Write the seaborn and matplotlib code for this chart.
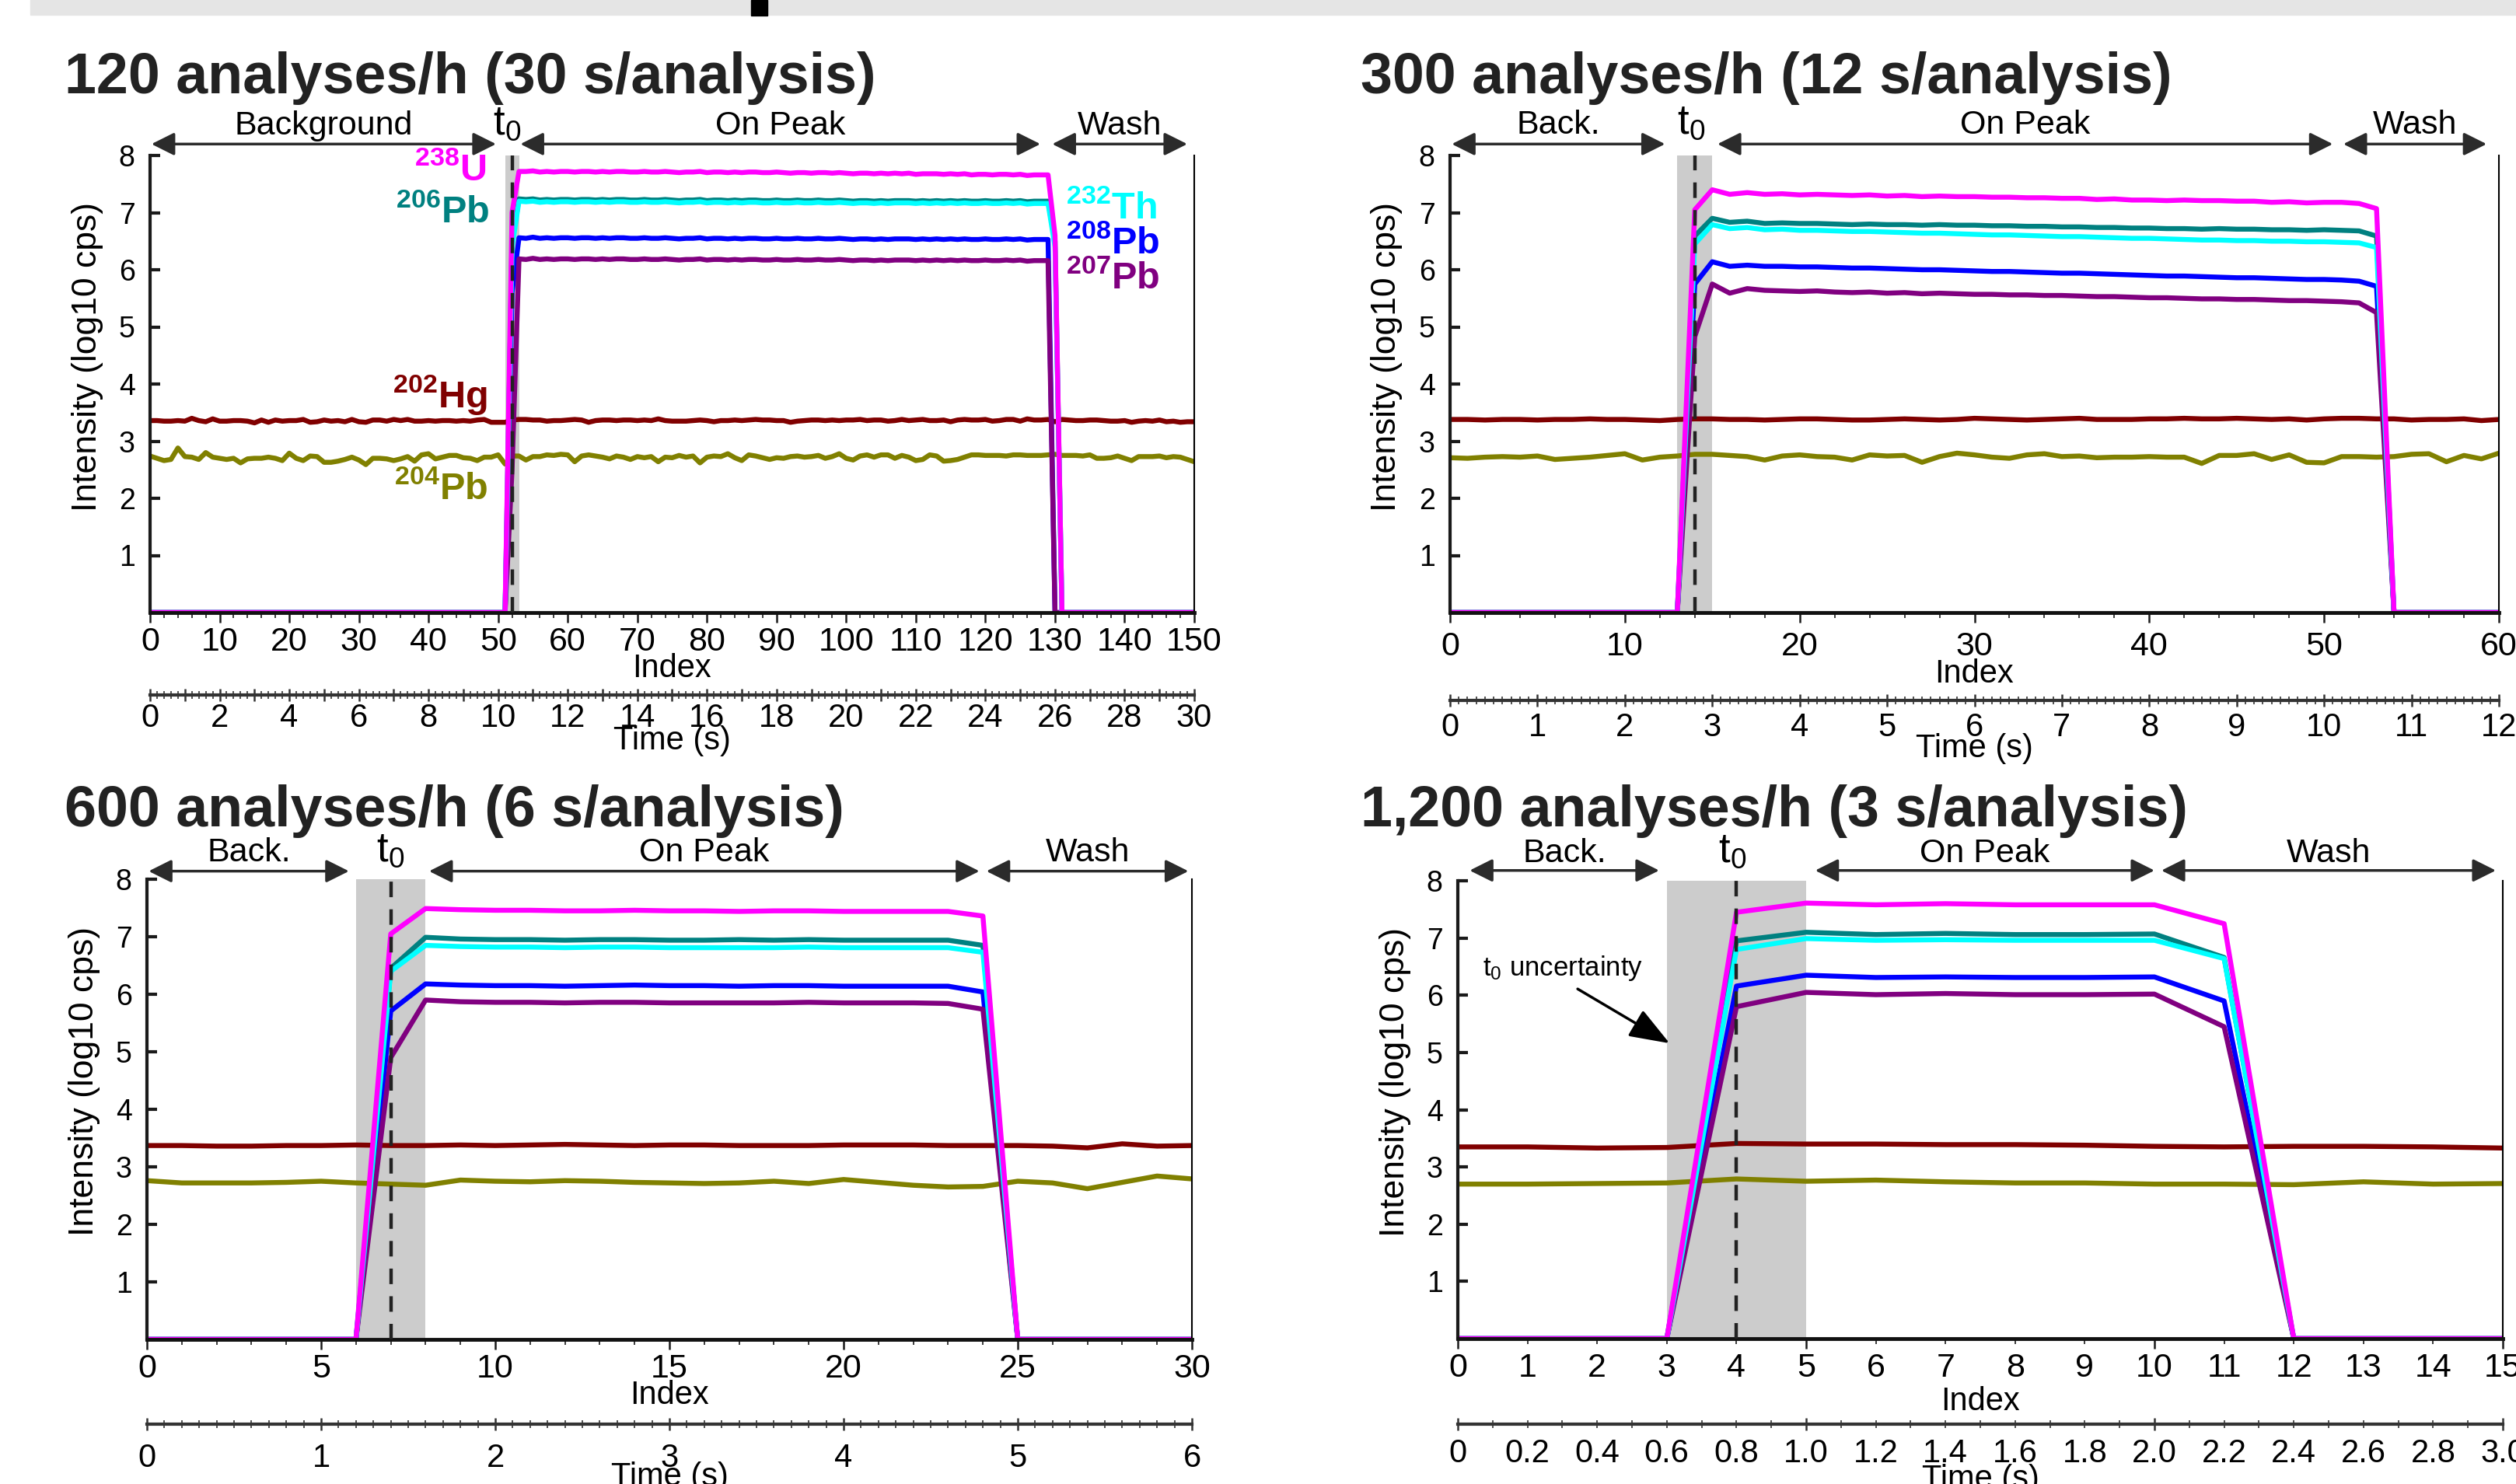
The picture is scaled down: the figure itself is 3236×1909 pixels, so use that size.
import matplotlib
matplotlib.use("Agg")
import matplotlib.pyplot as plt
from matplotlib.patches import Rectangle
from matplotlib.ticker import MultipleLocator, FuncFormatter
import pandas as pd
import seaborn as sns

# ---------------- data ----------------
isotopes = ["204Pb", "202Hg", "208Pb", "207Pb", "206Pb", "232Th", "238U"]
iso_colors = ["#808000", "#800000", "#0000ff", "#800080", "#008080", "#00ffff", "#ff00ff"]
signals = ["238U", "206Pb", "232Th", "208Pb", "207Pb"]

# 120 analyses/h  (index 0-150, 0.2 s per index)
tl_hg = [3.36, 3.36, 3.35, 3.35, 3.36, 3.35, 3.40, 3.36, 3.34, 3.39,
         3.35, 3.35, 3.36, 3.36, 3.35, 3.32, 3.37, 3.33, 3.37, 3.35,
         3.36, 3.36, 3.38, 3.33, 3.34, 3.37, 3.35, 3.36, 3.34, 3.38,
         3.34, 3.33, 3.37, 3.37, 3.35, 3.38, 3.36, 3.38, 3.35, 3.35,
         3.36, 3.35, 3.36, 3.36, 3.35, 3.36, 3.35, 3.37, 3.38, 3.33,
         3.33, 3.33, 3.37, 3.38, 3.38, 3.37, 3.37, 3.35, 3.36, 3.36,
         3.37, 3.38, 3.37, 3.33, 3.36, 3.37, 3.37, 3.36, 3.37, 3.37,
         3.36, 3.37, 3.36, 3.39, 3.36, 3.35, 3.35, 3.35, 3.36, 3.37,
         3.36, 3.34, 3.36, 3.36, 3.37, 3.36, 3.37, 3.38, 3.37, 3.37,
         3.36, 3.36, 3.33, 3.35, 3.36, 3.37, 3.37, 3.36, 3.37, 3.36,
         3.37, 3.37, 3.38, 3.36, 3.37, 3.37, 3.35, 3.36, 3.38, 3.36,
         3.37, 3.38, 3.36, 3.36, 3.37, 3.34, 3.37, 3.38, 3.37, 3.37,
         3.38, 3.35, 3.36, 3.38, 3.38, 3.35, 3.39, 3.37, 3.37, 3.38,
         3.34, 3.38, 3.37, 3.36, 3.36, 3.37, 3.37, 3.36, 3.35, 3.35,
         3.36, 3.33, 3.35, 3.36, 3.35, 3.37, 3.34, 3.35, 3.33, 3.34,
         3.34]
tl_pb204 = [2.74, 2.70, 2.66, 2.68, 2.88, 2.73, 2.72, 2.68, 2.80, 2.72,
            2.70, 2.68, 2.70, 2.62, 2.69, 2.70, 2.70, 2.72, 2.70, 2.66,
            2.79, 2.70, 2.66, 2.74, 2.73, 2.63, 2.63, 2.65, 2.68, 2.72,
            2.67, 2.59, 2.70, 2.70, 2.69, 2.66, 2.69, 2.73, 2.65, 2.76,
            2.78, 2.69, 2.72, 2.75, 2.75, 2.71, 2.70, 2.66, 2.72, 2.72,
            2.76, 2.60, 2.74, 2.74, 2.67, 2.73, 2.73, 2.76, 2.75, 2.77,
            2.76, 2.64, 2.74, 2.76, 2.74, 2.72, 2.69, 2.74, 2.72, 2.68,
            2.73, 2.71, 2.73, 2.64, 2.72, 2.71, 2.75, 2.72, 2.74, 2.62,
            2.72, 2.74, 2.73, 2.78, 2.71, 2.66, 2.76, 2.74, 2.71, 2.68,
            2.71, 2.70, 2.73, 2.74, 2.72, 2.73, 2.75, 2.70, 2.73, 2.78,
            2.70, 2.67, 2.74, 2.76, 2.72, 2.76, 2.76, 2.70, 2.75, 2.72,
            2.66, 2.68, 2.76, 2.74, 2.65, 2.66, 2.68, 2.72, 2.76, 2.76,
            2.75, 2.75, 2.75, 2.74, 2.76, 2.76, 2.75, 2.75, 2.75, 2.76,
            2.77, 2.75, 2.75, 2.75, 2.74, 2.76, 2.70, 2.70, 2.71, 2.74,
            2.70, 2.66, 2.73, 2.73, 2.73, 2.74, 2.71, 2.73, 2.72, 2.68,
            2.64]
tl_u_peak = [7.72, 7.72, 7.73, 7.71, 7.72, 7.71, 7.72, 7.72, 7.71, 7.72,
             7.72, 7.71, 7.72, 7.71, 7.72, 7.72, 7.71, 7.71, 7.72, 7.71,
             7.71, 7.72, 7.71, 7.70, 7.71, 7.71, 7.72, 7.70, 7.71, 7.71,
             7.70, 7.71, 7.70, 7.71, 7.71, 7.70, 7.70, 7.71, 7.70, 7.69,
             7.70, 7.70, 7.69, 7.70, 7.70, 7.69, 7.70, 7.69, 7.68, 7.69,
             7.69, 7.68, 7.69, 7.68, 7.69, 7.68, 7.69, 7.67, 7.68, 7.68,
             7.68, 7.67, 7.68, 7.67, 7.68, 7.66, 7.67, 7.67, 7.66, 7.67,
             7.67, 7.66, 7.67, 7.65, 7.66, 7.66, 7.66]
tl_pb206_peak = [7.24, 7.23, 7.24, 7.22, 7.23, 7.22, 7.23, 7.23, 7.22, 7.23,
                 7.23, 7.22, 7.23, 7.22, 7.23, 7.23, 7.22, 7.22, 7.23, 7.22,
                 7.22, 7.23, 7.22, 7.21, 7.22, 7.22, 7.23, 7.21, 7.22, 7.22,
                 7.21, 7.22, 7.21, 7.22, 7.22, 7.21, 7.21, 7.22, 7.21, 7.21,
                 7.22, 7.21, 7.21, 7.22, 7.21, 7.21, 7.22, 7.21, 7.20, 7.21,
                 7.21, 7.20, 7.21, 7.20, 7.21, 7.21, 7.21, 7.20, 7.21, 7.20,
                 7.21, 7.20, 7.21, 7.20, 7.21, 7.20, 7.20, 7.21, 7.20, 7.20,
                 7.21, 7.20, 7.21, 7.19, 7.20, 7.20, 7.20]
tl_th_peak = [7.20, 7.19, 7.20, 7.18, 7.19, 7.18, 7.19, 7.19, 7.18, 7.19,
              7.19, 7.18, 7.19, 7.18, 7.19, 7.19, 7.18, 7.18, 7.19, 7.18,
              7.18, 7.19, 7.18, 7.17, 7.18, 7.18, 7.19, 7.17, 7.18, 7.18,
              7.17, 7.18, 7.17, 7.18, 7.18, 7.17, 7.17, 7.18, 7.17, 7.17,
              7.18, 7.17, 7.17, 7.18, 7.17, 7.17, 7.18, 7.17, 7.16, 7.17,
              7.17, 7.16, 7.17, 7.16, 7.17, 7.17, 7.17, 7.16, 7.17, 7.16,
              7.17, 7.16, 7.17, 7.16, 7.17, 7.16, 7.16, 7.17, 7.16, 7.16,
              7.17, 7.16, 7.17, 7.15, 7.16, 7.16, 7.16]
tl_pb208_peak = [6.56, 6.55, 6.57, 6.55, 6.56, 6.55, 6.56, 6.56, 6.55, 6.56,
                 6.56, 6.55, 6.56, 6.55, 6.56, 6.56, 6.55, 6.55, 6.56, 6.55,
                 6.55, 6.56, 6.55, 6.54, 6.55, 6.55, 6.56, 6.54, 6.55, 6.55,
                 6.54, 6.55, 6.54, 6.55, 6.55, 6.54, 6.54, 6.55, 6.54, 6.54,
                 6.55, 6.54, 6.54, 6.55, 6.54, 6.54, 6.55, 6.54, 6.53, 6.54,
                 6.54, 6.53, 6.54, 6.53, 6.54, 6.54, 6.54, 6.53, 6.54, 6.53,
                 6.54, 6.53, 6.54, 6.53, 6.54, 6.53, 6.53, 6.54, 6.53, 6.53,
                 6.54, 6.53, 6.54, 6.52, 6.53, 6.53, 6.53]
tl_pb207_peak = [6.19, 6.18, 6.20, 6.18, 6.19, 6.18, 6.19, 6.19, 6.18, 6.19,
                 6.19, 6.18, 6.19, 6.18, 6.19, 6.19, 6.18, 6.18, 6.19, 6.18,
                 6.18, 6.19, 6.18, 6.17, 6.18, 6.18, 6.19, 6.17, 6.18, 6.18,
                 6.17, 6.18, 6.17, 6.18, 6.18, 6.17, 6.17, 6.18, 6.17, 6.17,
                 6.18, 6.17, 6.17, 6.18, 6.17, 6.17, 6.18, 6.17, 6.16, 6.17,
                 6.17, 6.16, 6.17, 6.16, 6.17, 6.17, 6.17, 6.16, 6.17, 6.16,
                 6.17, 6.16, 6.17, 6.16, 6.17, 6.16, 6.16, 6.17, 6.16, 6.16,
                 6.17, 6.16, 6.17, 6.15, 6.16, 6.16, 6.16]
tl_rise = [7.00, 6.50, 6.40, 5.60, 2.50]     # U, 206, 232, 208, 207 at index 52
tl_fall = [6.60, 6.50, 6.40, 0.00, 0.00]     # at index 130
tl_n_back, tl_n_wash = 52, 20

# 300 analyses/h  (index 0-60)
tr_hg = [3.38, 3.38, 3.37, 3.38, 3.38, 3.37, 3.38, 3.38, 3.39, 3.38,
         3.38, 3.37, 3.36, 3.38, 3.39, 3.39, 3.38, 3.38, 3.37, 3.38,
         3.39, 3.39, 3.38, 3.37, 3.37, 3.38, 3.39, 3.38, 3.37, 3.38,
         3.40, 3.39, 3.38, 3.37, 3.38, 3.39, 3.40, 3.38, 3.38, 3.38,
         3.39, 3.39, 3.40, 3.39, 3.39, 3.40, 3.39, 3.38, 3.39, 3.37,
         3.39, 3.40, 3.40, 3.39, 3.39, 3.37, 3.38, 3.38, 3.39, 3.36,
         3.38]
tr_pb204 = [2.71, 2.70, 2.72, 2.73, 2.72, 2.74, 2.68, 2.70, 2.72, 2.75,
            2.78, 2.67, 2.72, 2.74, 2.77, 2.77, 2.75, 2.73, 2.67, 2.74,
            2.76, 2.73, 2.72, 2.67, 2.76, 2.74, 2.75, 2.63, 2.73, 2.79,
            2.76, 2.72, 2.70, 2.76, 2.78, 2.73, 2.74, 2.71, 2.72, 2.72,
            2.73, 2.72, 2.72, 2.61, 2.75, 2.75, 2.78, 2.68, 2.76, 2.63,
            2.62, 2.73, 2.73, 2.72, 2.73, 2.77, 2.78, 2.64, 2.75, 2.69,
            2.79]
tr_u_peak = [7.40, 7.32, 7.35, 7.32, 7.33, 7.31, 7.32, 7.31, 7.30, 7.31,
             7.29, 7.30, 7.28, 7.29, 7.28, 7.28, 7.27, 7.27, 7.26, 7.26,
             7.25, 7.25, 7.23, 7.24, 7.22, 7.22, 7.21, 7.22, 7.21, 7.21,
             7.20, 7.20, 7.18, 7.19, 7.17, 7.18, 7.18, 7.16]
tr_pb206_peak = [6.90, 6.83, 6.85, 6.81, 6.82, 6.81, 6.81, 6.80, 6.79, 6.80,
                 6.79, 6.79, 6.78, 6.79, 6.78, 6.78, 6.77, 6.77, 6.76, 6.76,
                 6.75, 6.75, 6.74, 6.74, 6.73, 6.73, 6.72, 6.72, 6.71, 6.72,
                 6.71, 6.71, 6.70, 6.70, 6.69, 6.70, 6.69, 6.68]
tr_th_peak = [6.79, 6.72, 6.74, 6.70, 6.71, 6.69, 6.69, 6.68, 6.67, 6.67,
              6.66, 6.65, 6.64, 6.64, 6.63, 6.62, 6.61, 6.61, 6.60, 6.59,
              6.58, 6.58, 6.57, 6.56, 6.55, 6.55, 6.54, 6.53, 6.52, 6.52,
              6.51, 6.51, 6.50, 6.50, 6.49, 6.49, 6.48, 6.47]
tr_pb208_peak = [6.14, 6.06, 6.08, 6.06, 6.06, 6.05, 6.05, 6.04, 6.03, 6.03,
                 6.02, 6.01, 6.00, 6.00, 5.99, 5.98, 5.97, 5.97, 5.96, 5.95,
                 5.94, 5.94, 5.93, 5.92, 5.91, 5.90, 5.89, 5.89, 5.88, 5.87,
                 5.86, 5.86, 5.85, 5.84, 5.83, 5.83, 5.82, 5.80]
tr_pb207_peak = [5.75, 5.59, 5.67, 5.64, 5.63, 5.62, 5.63, 5.61, 5.60, 5.61,
                 5.59, 5.60, 5.58, 5.59, 5.58, 5.57, 5.57, 5.56, 5.56, 5.55,
                 5.55, 5.54, 5.53, 5.53, 5.52, 5.51, 5.51, 5.50, 5.49, 5.49,
                 5.48, 5.48, 5.47, 5.46, 5.46, 5.45, 5.44, 5.42]
tr_rise = [7.05, 6.59, 6.45, 5.75, 4.83]
tr_fall = [7.07, 6.59, 6.39, 5.71, 5.25]
tr_n_back, tr_n_wash = 14, 7

# 600 analyses/h  (index 0-30)
bl_hg = [3.37, 3.37, 3.36, 3.36, 3.37, 3.37, 3.38, 3.37, 3.37, 3.38,
         3.37, 3.38, 3.39, 3.38, 3.37, 3.38, 3.38, 3.37, 3.37, 3.37,
         3.38, 3.38, 3.38, 3.37, 3.37, 3.37, 3.36, 3.33, 3.40, 3.36,
         3.37]
bl_pb204 = [2.76, 2.72, 2.72, 2.72, 2.73, 2.75, 2.72, 2.70, 2.68, 2.77,
            2.75, 2.74, 2.76, 2.75, 2.73, 2.72, 2.71, 2.72, 2.75, 2.71,
            2.78, 2.73, 2.68, 2.65, 2.66, 2.75, 2.72, 2.62, 2.73, 2.84,
            2.79]
bl_u_peak = [7.49, 7.47, 7.46, 7.46, 7.45, 7.45, 7.46, 7.45, 7.45, 7.44,
             7.45, 7.45, 7.44, 7.44, 7.44, 7.44]
bl_pb206_peak = [6.99, 6.96, 6.95, 6.95, 6.94, 6.95, 6.95, 6.94, 6.94, 6.95,
                 6.94, 6.95, 6.94, 6.94, 6.94, 6.94]
bl_th_peak = [6.85, 6.83, 6.82, 6.82, 6.81, 6.82, 6.82, 6.81, 6.81, 6.81,
              6.81, 6.82, 6.81, 6.81, 6.81, 6.81]
bl_pb208_peak = [6.18, 6.16, 6.15, 6.15, 6.14, 6.15, 6.16, 6.15, 6.15, 6.14,
                 6.15, 6.15, 6.14, 6.14, 6.14, 6.14]
bl_pb207_peak = [5.90, 5.87, 5.86, 5.86, 5.85, 5.86, 5.86, 5.85, 5.85, 5.85,
                 5.85, 5.86, 5.85, 5.85, 5.85, 5.84]
bl_rise = [7.05, 6.45, 6.40, 5.71, 4.90]
bl_fall = [7.36, 6.85, 6.73, 6.04, 5.74]
bl_n_back, bl_n_wash = 7, 6

# 1,200 analyses/h  (index 0-15)
br_hg = [3.35, 3.35, 3.33, 3.34, 3.41, 3.40, 3.40, 3.39, 3.39, 3.38,
         3.36, 3.35, 3.36, 3.36, 3.35, 3.33]
br_pb204 = [2.70, 2.70, 2.71, 2.72, 2.79, 2.75, 2.77, 2.74, 2.72, 2.72,
            2.70, 2.70, 2.69, 2.74, 2.70, 2.71]
br_u_peak = [7.61, 7.58, 7.60, 7.58, 7.58, 7.58]
br_pb206_peak = [7.10, 7.06, 7.08, 7.06, 7.06, 7.07]
br_th_peak = [6.99, 6.96, 6.97, 6.96, 6.96, 6.96]
br_pb208_peak = [6.35, 6.31, 6.32, 6.31, 6.31, 6.32]
br_pb207_peak = [6.05, 6.01, 6.03, 6.01, 6.01, 6.02]
br_rise = [7.45, 6.95, 6.80, 6.16, 5.80]
br_fall = [7.25, 6.66, 6.64, 5.90, 5.45]
br_n_back, br_n_wash = 4, 4


def panel_frame(n_back, rise, peaks, fall, n_wash, hg, pb204):
    curves = {"202Hg": hg, "204Pb": pb204}
    for name, r, pk, f in zip(signals, rise, peaks, fall):
        curves[name] = [0.0] * n_back + [r] + list(pk) + [f] + [0.0] * n_wash
    rows = [(i, v, name) for name, vals in curves.items() for i, v in enumerate(vals)]
    return pd.DataFrame(rows, columns=["Index", "Intensity", "Isotope"])


df_tl = panel_frame(tl_n_back, tl_rise, [tl_u_peak, tl_pb206_peak, tl_th_peak, tl_pb208_peak, tl_pb207_peak],
                    tl_fall, tl_n_wash, tl_hg, tl_pb204)
df_tr = panel_frame(tr_n_back, tr_rise, [tr_u_peak, tr_pb206_peak, tr_th_peak, tr_pb208_peak, tr_pb207_peak],
                    tr_fall, tr_n_wash, tr_hg, tr_pb204)
df_bl = panel_frame(bl_n_back, bl_rise, [bl_u_peak, bl_pb206_peak, bl_th_peak, bl_pb208_peak, bl_pb207_peak],
                    bl_fall, bl_n_wash, bl_hg, bl_pb204)
df_br = panel_frame(br_n_back, br_rise, [br_u_peak, br_pb206_peak, br_th_peak, br_pb208_peak, br_pb207_peak],
                    br_fall, br_n_wash, br_hg, br_pb204)

# ---------------- layout (pixel boxes in the 3236x1909 canvas) ----------------
W, H, DPI = 3236, 1909, 100


def fx(x):
    return x / W


def fy(y):
    return 1 - y / H


panels = [
    dict(df=df_tl, title="120 analyses/h (30 s/analysis)", title_xy=(83, 120), box=(193, 200, 1536, 788),
         nmax=150, band=(51, 53), t0=52, t0_x=51.3, idx_major=10, idx_minor=2, idx_lab=10, idx_pad=4,
         index_y=860, time_y=894, tmax=30, t_minor=0.2, t_lab=2, t_dec=0, t_pad=1.5, time_lab_y=953,
         arrow_y=8.2, text_y=8.37,
         phases=[("Background", 0.2, 49.7), ("On Peak", 53.2, 127.9), ("Wash", 129.6, 149.0)]),
    dict(df=df_tr, title="300 analyses/h (12 s/analysis)", title_xy=(1750, 120), box=(1865, 200, 3214, 788),
         nmax=60, band=(13, 15), t0=14, t0_x=13.8, idx_major=10, idx_minor=2, idx_lab=10, idx_pad=8,
         index_y=867, time_y=901, tmax=12, t_minor=0.1, t_lab=1, t_dec=0, t_pad=5, time_lab_y=963,
         arrow_y=8.2, text_y=8.38,
         phases=[("Back.", 0.1, 12.3), ("On Peak", 15.3, 50.5), ("Wash", 51.1, 59.3)]),
    dict(df=df_bl, title="600 analyses/h (6 s/analysis)", title_xy=(83, 1063), box=(189, 1131, 1533, 1723),
         nmax=30, band=(6, 8), t0=7, t0_x=7.0, idx_major=5, idx_minor=1, idx_lab=5, idx_pad=4,
         index_y=1795, time_y=1832, tmax=6, t_minor=0.1, t_lab=1, t_dec=0, t_pad=11, time_lab_y=1900,
         arrow_y=8.14, text_y=8.31,
         phases=[("Back.", 0.05, 5.8), ("On Peak", 8.1, 23.9), ("Wash", 24.1, 29.9)]),
    dict(df=df_br, title="1,200 analyses/h (3 s/analysis)", title_xy=(1750, 1063), box=(1875, 1133, 3219, 1722),
         nmax=15, band=(3, 5), t0=4, t0_x=3.94, idx_major=5, idx_minor=1, idx_lab=1, idx_pad=4,
         index_y=1803, time_y=1832, tmax=3, t_minor=0.1, t_lab=0.2, t_dec=1, t_pad=7, time_lab_y=1903,
         arrow_y=8.18, text_y=8.33,
         phases=[("Back.", 0.17, 2.89), ("On Peak", 5.13, 10.0), ("Wash", 10.1, 14.9)]),
]

# isotope labels in the first panel: (mass, element, colour, x, baseline y, alignment)
tl_iso_labels = [("238", "U", "#ff00ff", 48.3, 7.56, "right"),
                 ("206", "Pb", "#008080", 48.8, 6.83, "right"),
                 ("202", "Hg", "#800000", 48.5, 3.59, "right"),
                 ("204", "Pb", "#808000", 48.6, 1.99, "right"),
                 ("232", "Th", "#00ffff", 131.6, 6.90, "left"),
                 ("208", "Pb", "#0000ff", 131.6, 6.29, "left"),
                 ("207", "Pb", "#800080", 131.6, 5.67, "left")]


def step_formatter(step, decimals):
    def f(v, pos):
        k = v / step
        if abs(k - round(k)) > 1e-6:
            return ""
        if abs(v) < 1e-9:
            return "0"
        return f"{v:.{decimals}f}"
    return FuncFormatter(f)


sns.set_theme(style="ticks")
plt.rcParams["font.family"] = ["Liberation Sans", "DejaVu Sans"]
plt.rcParams["mathtext.fontset"] = "custom"
plt.rcParams["mathtext.rm"] = "Liberation Sans"
plt.rcParams["mathtext.it"] = "Liberation Sans:italic"
plt.rcParams["mathtext.bf"] = "Liberation Sans:bold"
plt.rcParams["text.color"] = "black"

fig = plt.figure(figsize=(W / DPI, H / DPI), dpi=DPI)
fig.patches.append(Rectangle((fx(39), fy(19)), 1 - fx(39), 19 / H, transform=fig.transFigure,
                             color="#e5e5e5", zorder=0))
fig.patches.append(Rectangle((fx(966), fy(20)), 21 / W, 20 / H, transform=fig.transFigure,
                             color="black", zorder=1))

palette = dict(zip(isotopes, iso_colors))

for p in panels:
    x0, y0, x1, y1 = p["box"]
    ax = fig.add_axes([fx(x0), fy(y1), (x1 - x0) / W, (y1 - y0) / H])
    ax.patch.set_visible(False)
    ax.axvspan(*p["band"], color="#cccccc", lw=0, zorder=0.5)
    sns.lineplot(data=p["df"], x="Index", y="Intensity", hue="Isotope", hue_order=isotopes,
                 palette=palette, estimator=None, sort=False, legend=False, lw=4.6, ax=ax)
    ax.axvline(p["t0"], color="#222222", lw=3.2, ls=(0, (4.5, 3.5)), zorder=3)
    ax.set_xlim(0, p["nmax"])
    ax.set_ylim(0, 8)
    ax.set_xlabel("")
    ax.set_ylabel("Intensity (log10 cps)", fontsize=32, color="black")
    ax.yaxis.set_label_coords(-0.045, 0.56)

    ax.spines["top"].set_visible(False)
    ax.spines["left"].set_linewidth(3)
    ax.spines["left"].set_color("#1a1a1a")
    ax.spines["bottom"].set_linewidth(3.5)
    ax.spines["bottom"].set_color("#111111")
    ax.spines["right"].set_linewidth(1.5)
    ax.spines["right"].set_color("black")

    ax.set_yticks(range(1, 9))
    ax.tick_params(axis="y", direction="in", length=9, width=3, color="#1a1a1a",
                   labelsize=27, labelcolor="black", pad=14, left=True)
    ax.xaxis.set_major_locator(MultipleLocator(p["idx_major"]))
    ax.xaxis.set_minor_locator(MultipleLocator(p["idx_minor"]))
    ax.xaxis.set_major_formatter(step_formatter(p["idx_lab"], 0))
    ax.xaxis.set_minor_formatter(step_formatter(p["idx_lab"], 0))
    ax.tick_params(axis="x", which="major", direction="out", length=9, width=1.8, color="#1a1a1a",
                   labelsize=31, labelcolor="black", pad=p["idx_pad"], bottom=True)
    ax.tick_params(axis="x", which="minor", direction="out", length=5, width=1.2, color="#1a1a1a",
                   labelsize=31, labelcolor="black", pad=p["idx_pad"] + 4, bottom=True)

    # phase arrows above the axes
    for label, a, b in p["phases"]:
        ax.annotate("", xy=(b, p["arrow_y"]), xytext=(a, p["arrow_y"]), xycoords="data",
                    arrowprops=dict(arrowstyle="<|-|>,head_length=0.9,head_width=0.45", color="#2b2b2b",
                                    lw=2.5, shrinkA=0, shrinkB=0, mutation_scale=20),
                    annotation_clip=False)
        ax.text((a + b) / 2, p["text_y"], label, ha="center", va="baseline", fontsize=31, clip_on=False)
    ax.text(p["t0_x"], p["text_y"], r"t$_0$", ha="center", va="baseline", fontsize=38, clip_on=False)

    fig.text(fx(p["title_xy"][0]), fy(p["title_xy"][1]), p["title"], fontsize=53, fontweight="bold",
             ha="left", va="baseline", color="#222222")
    fig.text(fx((x0 + x1) / 2), fy(p["index_y"]), "Index", fontsize=30, ha="center", va="center")

    # separate time axis below
    tax = fig.add_axes([fx(x0), fy(p["time_y"]), (x1 - x0) / W, 0.0001])
    tax.patch.set_visible(False)
    tax.set_xlim(0, p["tmax"])
    tax.set_yticks([])
    for s in ["top", "left", "right"]:
        tax.spines[s].set_visible(False)
    tax.spines["bottom"].set_linewidth(3)
    tax.spines["bottom"].set_color("#333333")
    tax.xaxis.set_major_locator(MultipleLocator(1))
    tax.xaxis.set_minor_locator(MultipleLocator(p["t_minor"]))
    tax.xaxis.set_major_formatter(step_formatter(p["t_lab"], p["t_dec"]))
    tax.xaxis.set_minor_formatter(step_formatter(p["t_lab"], p["t_dec"]))
    tax.tick_params(axis="x", which="major", direction="inout", length=12, width=1.8, color="#333333",
                    labelsize=30, labelcolor="black", pad=p["t_pad"], bottom=True)
    tax.tick_params(axis="x", which="minor", direction="inout", length=7, width=1.2, color="#333333",
                    labelsize=30, labelcolor="black", pad=p["t_pad"] + 2.5, bottom=True)
    fig.text(fx((x0 + x1) / 2), fy(p["time_lab_y"]), "Time (s)", fontsize=30, ha="center", va="center")

    if p is panels[0]:
        for mass, elem, col, x, y, ha in tl_iso_labels:
            ax.text(x, y, r"$^{\mathbf{" + mass + "}}$" + elem, color=col, fontsize=35,
                    fontweight="bold", ha=ha, va="baseline", clip_on=False)
    if p is panels[3]:
        ax.text(0.36, 6.34, r"t$_0$ uncertainty", fontsize=25, ha="left", va="baseline")
        ax.annotate("", xy=(3.04, 5.16), xytext=(1.72, 6.11),
                    arrowprops=dict(arrowstyle="-|>,head_length=1.6,head_width=0.6", color="black",
                                    lw=2.5, shrinkA=0, shrinkB=0, mutation_scale=20))

fig.savefig("out.png", dpi=DPI)
